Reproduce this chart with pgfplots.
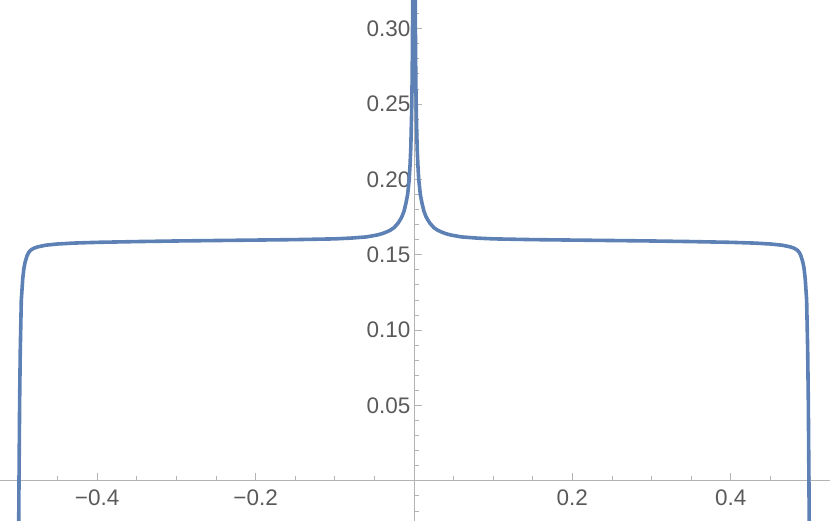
\documentclass[border=0pt]{standalone}
\usepackage{pgfplots}
\pgfplotsset{compat=1.18}
\usepackage{fontspec}
\setmainfont{Liberation Sans}

\definecolor{mmablue}{HTML}{5E81B5}
\definecolor{axisgray}{HTML}{B3B3B3}
\definecolor{labelgray}{HTML}{5A5A5A}

\begin{document}
\begin{tikzpicture}
  \begin{axis}[
      scale only axis,
      width=830bp, height=521bp,
      xmin=-0.5227, xmax=0.5253,
      ymin=-0.0267, ymax=0.319,
      axis lines=middle,
      axis line style={-, draw=axisgray, line width=0.9bp},
      tick style={draw=axisgray, line width=0.8bp},
      tick align=inside,
      major tick length=8bp,
      minor tick length=5bp,
      xtick={-0.4,-0.2,0.2,0.4},
      xticklabels={−0.4,−0.2,0.2,0.4},
      minor xtick={-0.5,-0.45,...,0.51},
      ytick={0.05,0.10,0.15,0.20,0.25,0.30},
      yticklabels={0.05,0.10,0.15,0.20,0.25,0.30},
      minor ytick={-0.02,-0.01,...,0.315},
      ticklabel style={font=\fontsize{22.5bp}{26bp}\selectfont, text=labelgray},
      xticklabel style={anchor=north, yshift=-6bp},
      yticklabel style={anchor=east, xshift=0bp},
      clip=true,
    ]
    \addplot[mmablue, line width=3.6bp, line join=round] coordinates {
      (-0.4992,-0.04)(-0.4987,0.0)(-0.4979,0.0535)(-0.4971,0.0866)(-0.4958,0.1198)
      (-0.494,0.134)(-0.4925,0.141)(-0.491,0.145)(-0.4886,0.1492)(-0.4865,0.1515)
      (-0.484,0.1530)(-0.480,0.1543)(-0.475,0.1552)(-0.465,0.1563)(-0.450,0.1571)
      (-0.430,0.1577)(-0.400,0.1582)(-0.350,0.1587)(-0.300,0.1591)(-0.250,0.1594)
      (-0.200,0.1597)(-0.150,0.1600)(-0.100,0.1605)(-0.080,0.1610)(-0.060,0.1618)
      (-0.047,0.1630)(-0.040,0.1640)(-0.035,0.1650)(-0.030,0.1662)(-0.025,0.168)
      (-0.020,0.171)(-0.017,0.1735)(-0.015,0.1755)(-0.0125,0.179)(-0.010,0.1845)
      (-0.008,0.190)(-0.006,0.200)(-0.005,0.209)(-0.004,0.221)(-0.003,0.243)
      (-0.0025,0.259)(-0.002,0.284)(-0.0015,0.327)(-0.001,0.41)
      (0.001,0.41)(0.0015,0.327)(0.002,0.284)(0.0025,0.259)(0.003,0.243)
      (0.004,0.221)(0.005,0.209)(0.006,0.200)(0.008,0.190)(0.010,0.1845)
      (0.0125,0.179)(0.015,0.1755)(0.017,0.1735)(0.020,0.171)(0.025,0.168)
      (0.030,0.1662)(0.035,0.1650)(0.040,0.1640)(0.047,0.1630)(0.060,0.1618)
      (0.080,0.1610)(0.100,0.1605)(0.150,0.1600)(0.200,0.1597)(0.250,0.1594)
      (0.300,0.1591)(0.350,0.1587)(0.400,0.1582)(0.430,0.1577)(0.450,0.1571)
      (0.465,0.1563)(0.475,0.1552)(0.480,0.1543)(0.484,0.1530)(0.4865,0.1515)
      (0.4886,0.1492)(0.491,0.145)(0.4925,0.141)(0.494,0.134)(0.4958,0.1198)
      (0.4971,0.0866)(0.4979,0.0535)(0.4987,0.0)(0.4992,-0.04)
    };
  \end{axis}
  \pgfresetboundingbox
  \useasboundingbox (current axis.south west) rectangle (current axis.north east);
\end{tikzpicture}
\end{document}
